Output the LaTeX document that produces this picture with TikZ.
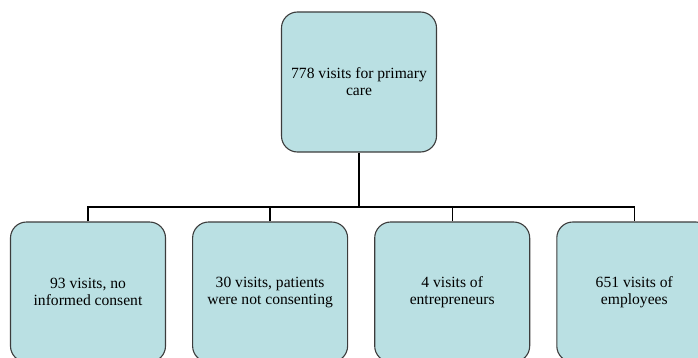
\documentclass[tikz,border=0pt]{standalone}
\usepackage{fontspec}
\setmainfont{Liberation Serif}
\usepackage{xcolor}
\usepackage{tikz}
\usetikzlibrary{positioning}

\definecolor{boxfill}{RGB}{186,224,227}
\definecolor{boxline}{RGB}{60,60,60}

\tikzset{
  visitbox/.style={draw=boxline, line width=1.1pt, fill=boxfill, rounded corners=16pt,
    minimum width=155pt, minimum height=140pt, align=center,
    font=\rmfamily\fontsize{15.6}{17}\selectfont, inner sep=2pt},
  treeline/.style={draw=black, line width=1.3pt}
}

\begin{document}
\begin{tikzpicture}[x=1pt,y=1pt]
\useasboundingbox (0,0) rectangle (698,357);
\clip (0,0) rectangle (698,357);

% Top box
\node [visitbox] (total) at (359,275) {778 visits for primary\\care};

% Boxes below
\node [visitbox] (noconsent) at (88,65) {93 visits, no\\informed consent};
\node [visitbox, right=26pt of noconsent] (refused) {30 visits, patients\\were not consenting};
\node [visitbox, right=26pt of refused] (entre) {4 visits of\\entrepreneurs};
\node [visitbox, right=26pt of entre] (employ) {651 visits of\\employees};

% Tree lines
\coordinate (hub) at (total.south |- 0,150);
\draw [treeline] (total.south) -- (hub);
\draw [treeline] (noconsent.north) |- (hub) -| (employ.north);
\draw [treeline] (refused.north) -- (refused.north |- hub);
\draw [treeline] (entre.north) -- (entre.north |- hub);

\end{tikzpicture}
\end{document}
